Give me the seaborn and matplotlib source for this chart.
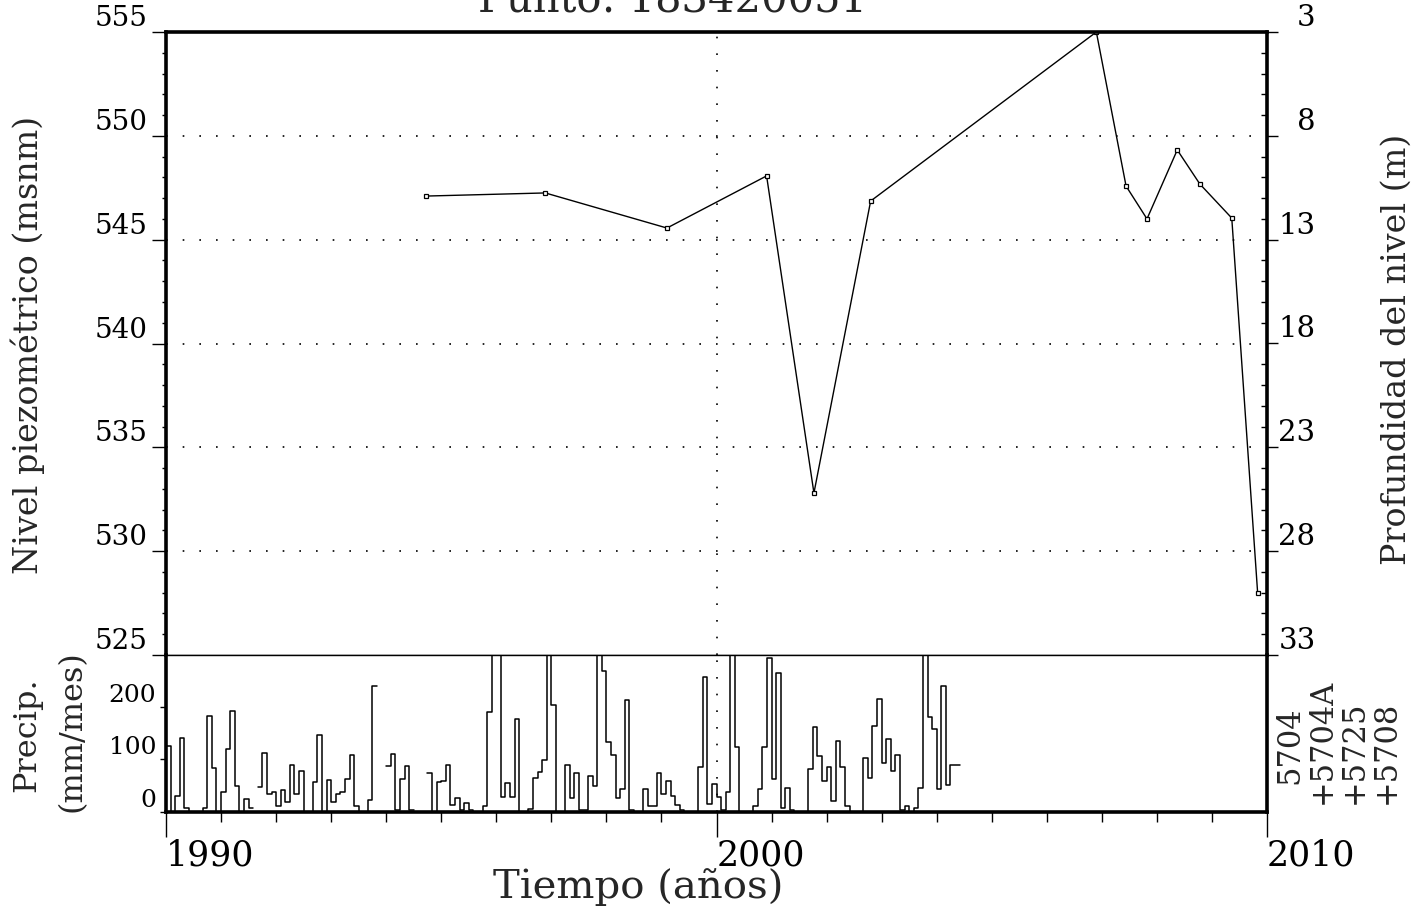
import numpy as np
import pandas as pd
import matplotlib
matplotlib.use("Agg")
import matplotlib.pyplot as plt
from matplotlib.ticker import MultipleLocator
import seaborn as sns

# Serie piezometrica (fecha decimal, nivel msnm)
fechas_nivel = [1994.73, 1996.89, 1999.10, 2000.91, 2001.77, 2002.80, 2006.90,
                2007.44, 2007.82, 2008.37, 2008.78, 2009.36, 2009.83]
niveles = [547.10, 547.25, 545.56, 548.07, 532.80, 546.86, 555.0,
           547.58, 546.0, 549.32, 547.68, 546.04, 527.99]

# Precipitacion mensual desde enero 1990 (mm/mes), NaN = sin dato
precip_inicio = 1990.0
precip = [125, 0, 30, 141, 8, 0, 0, 0, 8, 184, 83, 0,
          37, 120, 192, 49, 0, 24, 8, np.nan, 47, 113, 33, 38,
          10, 42, 19, 90, 33, 77, 0, 0, 56, 146, 0, 61,
          19, 33, 38, 63, 109, 11, 0, 0, 22, 240, np.nan, np.nan,
          88, 110, 4, 63, 88, 4, np.nan, np.nan, np.nan, 74, 0, 56,
          59, 90, 13, 27, 4, 17, 4, 0, 0, 11, 191, 310,
          310, 29, 54, 29, 178, 0, 0, 6, 65, 76, 99, 310,
          205, 0, 0, 89, 26, 74, 4, 4, 69, 49, 310, 270,
          134, 108, 27, 43, 213, 3, 0, 0, 43, 11, 11, 75,
          33, 59, 30, 12, 4, 0, 0, 0, 86, 258, 14, 53,
          29, 4, 37, 310, 123, 0, 0, 0, 11, 43, 123, 294,
          62, 266, 8, 46, 4, 0, 0, 0, 81, 162, 107, 59,
          85, 20, 136, 85, 10, 0, 0, 0, 102, 65, 165, 216,
          94, 140, 78, 109, 4, 11, 0, 8, 46, 310, 181, 158,
          44, 240, 51, 89, 89]

estaciones = ["5704", "+5704A", "+5725", "+5708"]
titulo = "Punto: 183420051"

W, H = 1422, 914


def fx(x):
    return x / W


def fy(y):
    return 1 - y / H


sns.set_style("white")
plt.rcParams['font.family'] = ['DejaVu Serif']
plt.rcParams['axes.edgecolor'] = 'black'
plt.rcParams['xtick.color'] = 'black'
plt.rcParams['ytick.color'] = 'black'

fig = plt.figure(figsize=(W / 100, H / 100), dpi=100)
ax = fig.add_axes([fx(166), fy(655), (1267 - 166) / W, (655 - 32) / H])
axp = fig.add_axes([fx(166), fy(811.7), (1267 - 166) / W, (811.7 - 655) / H])

# --- panel superior: nivel piezometrico ---
df_nivel = pd.DataFrame({'fecha': fechas_nivel, 'nivel': niveles})
sns.lineplot(data=df_nivel, x='fecha', y='nivel', ax=ax, color='black', lw=1.0,
             marker='s', markersize=3.5, markerfacecolor='white',
             markeredgecolor='black', markeredgewidth=0.9)
ax.set_xlim(1990, 2010)
ax.set_ylim(525, 555)
ax.set_xlabel('')
ax.set_ylabel('')
ax.set_xticks([])
for lev in range(530, 555, 5):
    ax.axhline(lev, color='black', lw=1.2, linestyle=(0, (1, 9)))
ax.axvline(2000, color='black', lw=1.2, linestyle=(0, (1, 9)))

ax.set_yticks(range(525, 556, 5))
ax.yaxis.set_minor_locator(MultipleLocator(1))
ax.tick_params(axis='y', which='major', direction='out', length=10, width=1,
               labelsize=20, pad=3, left=True)
ax.tick_params(axis='y', which='minor', direction='out', length=3, width=1, left=True)
for lbl in ax.get_yticklabels():
    lbl.set_verticalalignment('bottom')
for side in ['top', 'left', 'right']:
    ax.spines[side].set_linewidth(2.6)
ax.spines['bottom'].set_linewidth(1.0)

# eje derecho: profundidad
ax2 = ax.twinx()
ax2.set_ylim(33, 3)
ax2.set_yticks(range(3, 34, 5))
ax2.yaxis.set_minor_locator(MultipleLocator(1))
ax2.tick_params(axis='y', which='major', direction='out', length=8, width=1,
                labelsize=21, pad=27, right=True)
ax2.tick_params(axis='y', which='minor', direction='in', length=4, width=1, right=True)
for lbl in ax2.get_yticklabels():
    lbl.set_verticalalignment('bottom')
    lbl.set_horizontalalignment('right')
for side in ['top', 'left', 'right', 'bottom']:
    ax2.spines[side].set_visible(False)

# --- panel inferior: precipitacion ---
meses = precip_inicio + np.arange(len(precip)) / 12.0
rows = []
seg = 0
for i, v in enumerate(precip):
    if np.isnan(v):
        seg += 1
        continue
    rows.append((meses[i], v, seg))
    # cierre del escalon si el siguiente mes falta o es el ultimo
    if i == len(precip) - 1 or np.isnan(precip[i + 1]):
        rows.append((meses[i] + 1 / 12.0, v, seg))
df_p = pd.DataFrame(rows, columns=['fecha', 'pp', 'seg'])
sns.lineplot(data=df_p, x='fecha', y='pp', units='seg', estimator=None, ax=axp,
             color='black', lw=1.1, drawstyle='steps-post', legend=False)
axp.set_xlim(1990, 2010)
axp.set_ylim(0, 300)
axp.set_xlabel('')
axp.set_ylabel('')
axp.axvline(2000, color='black', lw=1.2, linestyle=(0, (1, 9)))
axp.set_yticks([0, 100, 200])
axp.tick_params(axis='y', which='major', direction='out', length=4, width=1,
                labelsize=18, pad=3, left=True)
for lbl in axp.get_yticklabels():
    lbl.set_verticalalignment('bottom')
axp.set_xticks([1990, 2000, 2010])
axp.xaxis.set_minor_locator(MultipleLocator(1))
axp.tick_params(axis='x', which='major', direction='out', length=18, width=1,
                labelsize=25, pad=1, bottom=True)
axp.tick_params(axis='x', which='minor', direction='out', length=7, width=1, bottom=True)
for lbl in axp.get_xticklabels():
    lbl.set_horizontalalignment('left')
for side in ['bottom', 'left', 'right']:
    axp.spines[side].set_linewidth(2.6)
axp.spines['top'].set_linewidth(1.0)

# --- textos ---
fig.text(fx(672), fy(12), titulo, ha='center', va='baseline', fontsize=30)
fig.text(fx(638), fy(898), 'Tiempo (años)', ha='center', va='baseline', fontsize=29)
fig.text(fx(28), fy(345), 'Nivel piezométrico (msnm)', rotation=90,
         ha='center', va='center', fontsize=24)
fig.text(fx(1397), fy(349), 'Profundidad del nivel (m)', rotation=90,
         ha='center', va='center', fontsize=24)
fig.text(fx(27), fy(792), 'Precip.', rotation=90, ha='center', va='bottom', fontsize=23)
fig.text(fx(72), fy(812), '(mm/mes)', rotation=90, ha='center', va='bottom', fontsize=23)
for k, est in enumerate(estaciones):
    ybase = 784 if k == 0 else 804
    fig.text(fx(1290 + 32 * k), fy(ybase), est, rotation=90,
             ha='center', va='bottom', fontsize=22)

fig.savefig('out.png', dpi=100, facecolor='white')
